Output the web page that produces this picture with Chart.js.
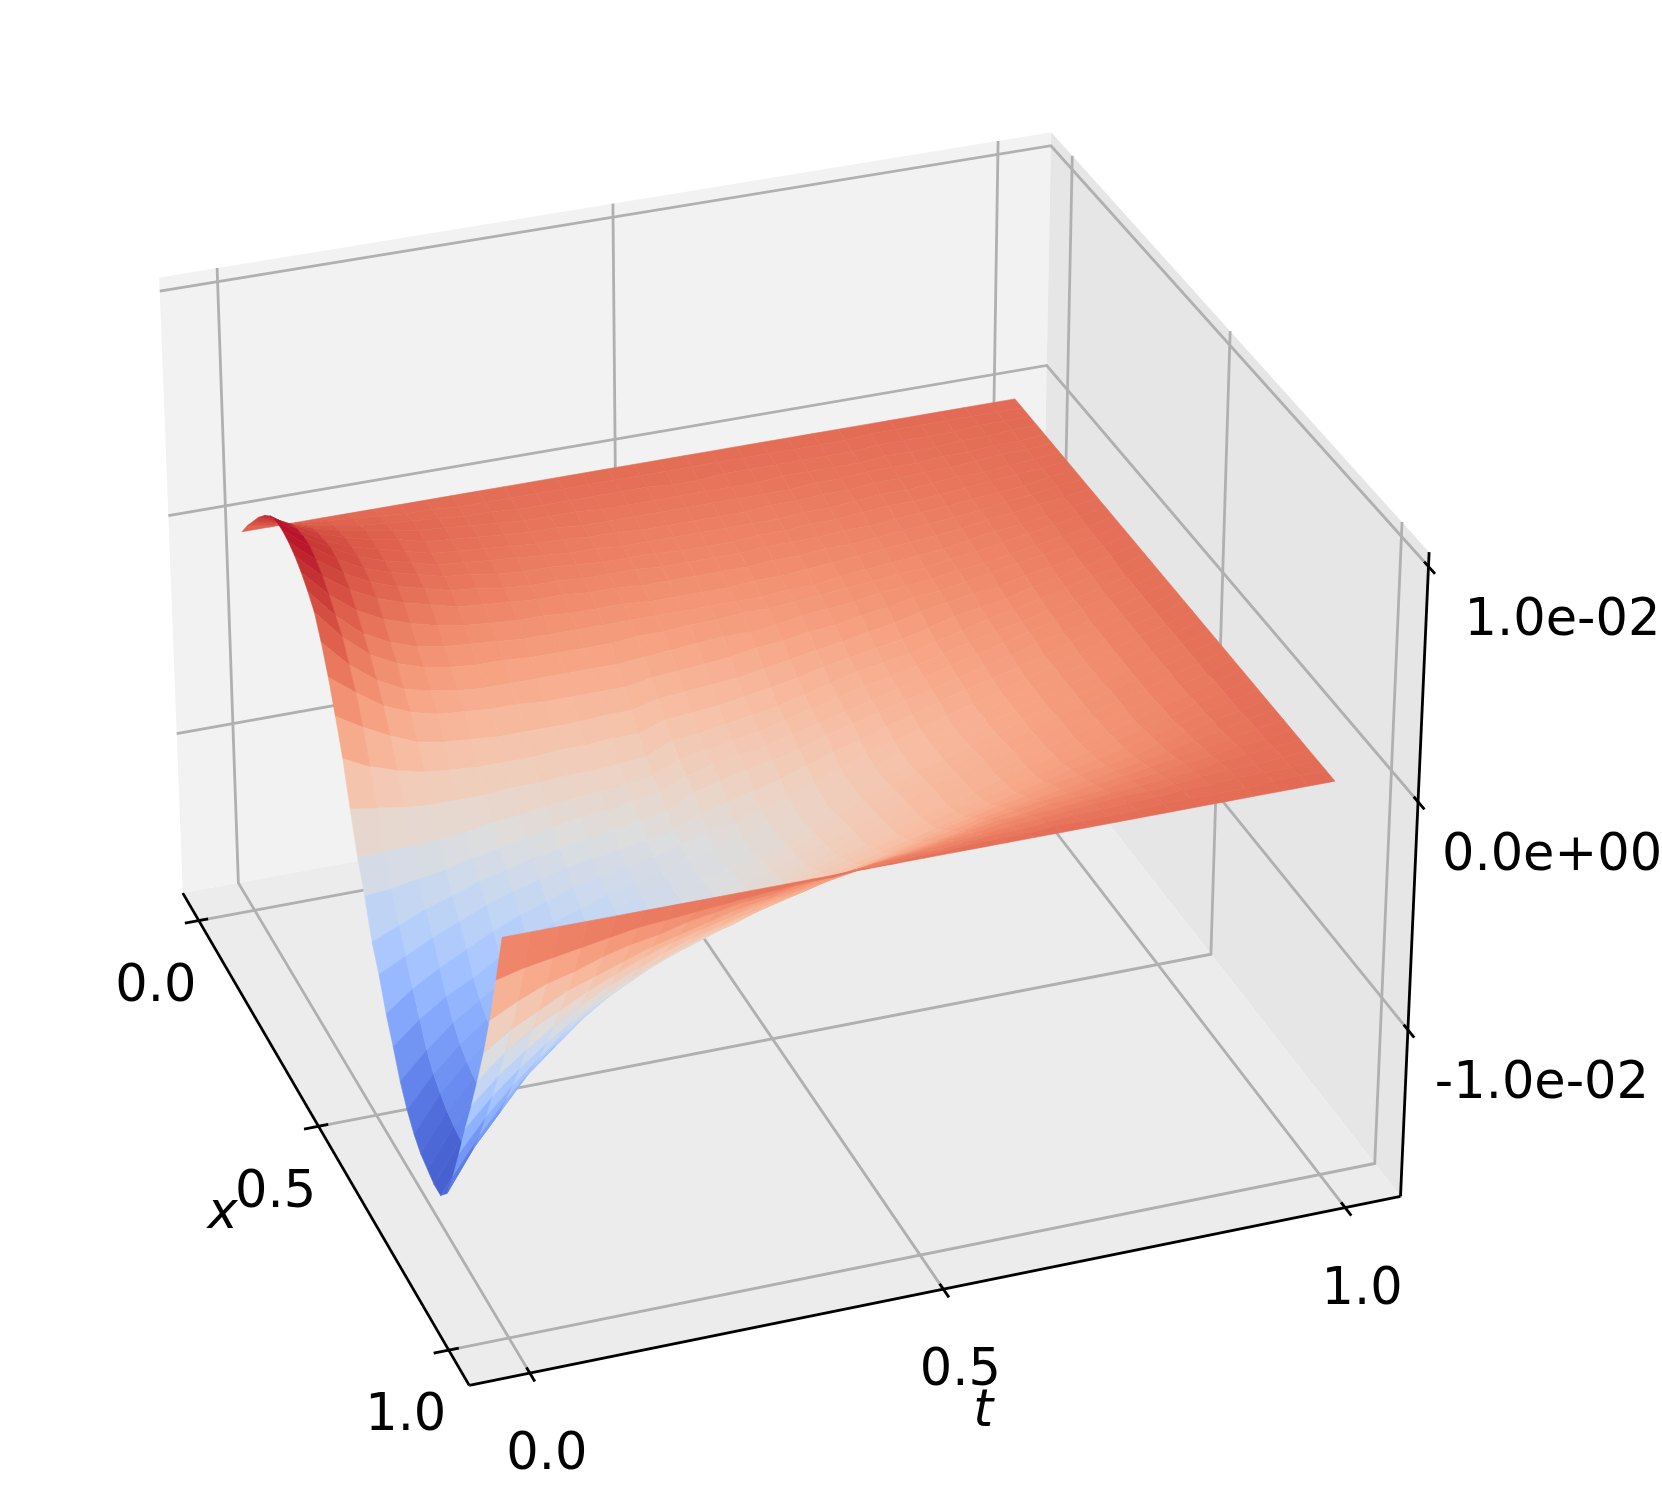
<!DOCTYPE html>
<html><head><meta charset="utf-8">
<style>html,body{margin:0;padding:0;background:#fff}canvas{display:block}</style>
<script src="https://cdn.jsdelivr.net/npm/chart.js@4/dist/chart.umd.js"></script>
</head><body><canvas id="c" width="1662" height="1506"></canvas>
<script>
// ---- data: u(x,t) in units of 1e-4, rows are x, columns are t
const xValues=[0,.025,.05,.075,.1,.125,.15,.175,.2,.225,.25,.275,.3,.325,.35,.375,.4,.425,.45,.475,.5,.525,.55,.575,.6,.625,.65,.675,.7,.725,.75,.775,.8,.825,.85,.875,.9,.925,.95,.975,1];
const tValues=[0,.0333,.0667,.1,.1333,.1667,.2,.2333,.2667,.3,.3333,.3667,.4,.4333,.4667,.5,.5333,.5667,.6,.6333,.6667,.7,.7333,.7667,.8,.8333,.8667,.9,.9333,.9667,1];
const uRows=[
[0,0,0,0,0,0,0,0,0,0,0,0,0,0,0,0,0,0,0,0,0,0,0,0,0,0,0,0,0,0,0],
[7,5,4,3,2,1,0,0,-1,-1,-1,-1,-1,-1,-1,-1,-1,-1,-1,-1,-1,-1,-1,-1,0,0,0,0,0,0,0],
[13,10,7,5,3,2,1,0,-1,-1,-2,-2,-2,-2,-2,-2,-3,-3,-2,-2,-2,-2,-2,-2,-1,-1,-1,-1,0,0,0],
[19,14,10,7,5,3,1,0,-1,-2,-3,-3,-3,-4,-4,-4,-4,-4,-4,-4,-3,-3,-3,-3,-2,-2,-2,-1,-1,0,0],
[24,18,12,8,5,3,0,-1,-2,-3,-4,-4,-5,-5,-5,-5,-5,-5,-5,-5,-5,-4,-4,-3,-3,-3,-2,-2,-1,-1,0],
[28,20,13,8,5,2,-1,-2,-3,-4,-5,-5,-6,-6,-7,-7,-7,-7,-7,-6,-6,-5,-5,-4,-4,-3,-3,-2,-1,-1,0],
[30,21,14,8,4,1,-2,-3,-4,-5,-6,-7,-7,-8,-8,-8,-8,-8,-8,-8,-7,-7,-6,-5,-5,-4,-3,-3,-2,-1,0],
[30,21,13,7,3,0,-3,-4,-6,-7,-7,-8,-9,-9,-9,-10,-10,-10,-9,-9,-8,-8,-7,-6,-6,-5,-4,-3,-2,-1,0],
[29,19,11,5,1,-2,-5,-6,-8,-9,-9,-10,-10,-10,-11,-11,-11,-11,-10,-10,-10,-9,-9,-8,-7,-6,-5,-4,-3,-1,0],
[27,16,8,2,-2,-5,-8,-9,-10,-11,-11,-12,-12,-13,-13,-13,-13,-13,-12,-12,-11,-11,-10,-9,-8,-7,-6,-4,-3,-1,0],
[24,12,3,-3,-7,-10,-12,-13,-14,-14,-15,-15,-15,-16,-16,-16,-16,-15,-15,-14,-13,-12,-11,-10,-9,-8,-6,-5,-3,-2,0],
[20,7,-3,-9,-13,-15,-16,-17,-18,-18,-18,-18,-18,-18,-18,-18,-18,-18,-17,-17,-15,-14,-13,-12,-11,-9,-7,-6,-4,-2,0],
[15,2,-8,-14,-18,-20,-21,-21,-22,-22,-22,-22,-21,-21,-20,-20,-19,-19,-18,-17,-16,-15,-14,-13,-11,-10,-8,-6,-4,-2,0],
[6,-6,-15,-21,-24,-26,-27,-27,-27,-27,-27,-27,-26,-25,-24,-23,-23,-22,-20,-19,-18,-16,-15,-14,-12,-11,-9,-7,-5,-3,0],
[-5,-14,-22,-27,-30,-31,-32,-32,-33,-33,-33,-33,-31,-30,-29,-28,-26,-25,-23,-22,-20,-18,-16,-15,-13,-11,-9,-7,-5,-3,0],
[-18,-25,-31,-36,-38,-39,-40,-40,-40,-40,-39,-39,-36,-35,-34,-33,-31,-29,-27,-25,-23,-21,-18,-16,-14,-13,-10,-8,-6,-3,0],
[-32,-38,-42,-45,-46,-47,-47,-47,-46,-46,-45,-45,-41,-40,-39,-37,-35,-33,-30,-28,-26,-24,-21,-18,-16,-14,-11,-9,-6,-3,0],
[-50,-52,-54,-55,-55,-55,-54,-54,-53,-53,-52,-51,-46,-45,-43,-41,-39,-36,-33,-30,-28,-26,-23,-20,-17,-15,-12,-9,-6,-4,0],
[-67,-67,-67,-66,-65,-63,-62,-60,-59,-58,-57,-55,-50,-48,-46,-44,-41,-38,-35,-32,-30,-27,-24,-21,-18,-16,-13,-10,-7,-4,0],
[-80,-79,-77,-75,-72,-70,-67,-65,-63,-62,-60,-58,-53,-50,-48,-46,-43,-40,-37,-34,-31,-28,-25,-22,-19,-16,-13,-10,-7,-4,0],
[-96,-91,-86,-82,-78,-75,-72,-70,-68,-66,-64,-62,-56,-53,-50,-48,-45,-41,-38,-35,-32,-29,-26,-23,-20,-17,-14,-11,-7,-4,0],
[-106,-100,-94,-89,-84,-80,-77,-74,-72,-70,-68,-66,-61,-58,-55,-52,-48,-44,-41,-37,-34,-30,-27,-24,-21,-18,-14,-11,-7,-4,0],
[-119,-110,-103,-97,-91,-86,-82,-78,-76,-73,-71,-68,-65,-62,-59,-55,-51,-47,-43,-39,-36,-32,-29,-25,-22,-18,-15,-11,-7,-4,0],
[-129,-119,-111,-105,-98,-92,-87,-83,-79,-76,-73,-70,-68,-64,-60,-56,-52,-48,-44,-40,-36,-33,-29,-25,-22,-18,-15,-11,-7,-4,0],
[-140,-128,-118,-110,-103,-97,-91,-86,-81,-77,-73,-70,-68,-65,-61,-57,-53,-48,-44,-40,-36,-33,-29,-25,-22,-18,-15,-11,-7,-4,0],
[-148,-134,-123,-114,-106,-99,-92,-87,-82,-78,-74,-70,-67,-64,-60,-56,-52,-47,-43,-39,-36,-32,-29,-25,-22,-18,-15,-11,-7,-4,0],
[-154,-138,-126,-116,-108,-100,-93,-87,-82,-77,-73,-69,-66,-62,-58,-54,-50,-46,-42,-38,-35,-31,-28,-25,-21,-18,-14,-11,-7,-4,0],
[-158,-141,-128,-118,-109,-101,-94,-88,-82,-77,-72,-68,-65,-61,-57,-53,-49,-45,-41,-37,-34,-30,-27,-24,-21,-18,-14,-11,-7,-4,0],
[-160,-143,-130,-119,-110,-102,-94,-88,-83,-78,-72,-68,-65,-60,-56,-52,-48,-44,-40,-36,-33,-30,-27,-24,-21,-17,-14,-11,-7,-4,0],
[-162,-144,-129,-117,-107,-98,-90,-84,-78,-73,-69,-65,-61,-57,-53,-50,-47,-43,-39,-36,-33,-29,-26,-23,-20,-17,-14,-10,-7,-3,0],
[-162,-145,-129,-115,-104,-95,-87,-80,-74,-69,-64,-60,-57,-53,-50,-47,-44,-41,-37,-34,-31,-28,-25,-22,-19,-16,-13,-10,-6,-3,0],
[-156,-138,-124,-110,-100,-90,-82,-76,-70,-65,-60,-56,-53,-50,-47,-44,-41,-38,-35,-32,-29,-26,-23,-20,-18,-15,-12,-9,-6,-3,0],
[-143,-127,-113,-101,-91,-82,-75,-69,-64,-60,-56,-52,-49,-46,-43,-40,-37,-34,-31,-28,-25,-23,-20,-18,-16,-14,-11,-8,-5,-3,0],
[-128,-114,-102,-92,-82,-74,-68,-62,-57,-53,-50,-46,-43,-40,-37,-34,-32,-29,-27,-24,-22,-20,-18,-16,-14,-12,-10,-7,-5,-2,0],
[-112,-100,-90,-81,-73,-66,-60,-55,-50,-46,-43,-40,-37,-34,-32,-29,-27,-25,-23,-20,-18,-16,-15,-13,-12,-10,-8,-6,-4,-2,0],
[-97,-86,-77,-69,-62,-56,-51,-46,-42,-39,-36,-33,-31,-28,-26,-24,-22,-20,-18,-16,-15,-13,-12,-11,-9,-8,-6,-5,-3,-2,0],
[-81,-71,-63,-57,-51,-46,-41,-37,-34,-31,-28,-26,-24,-22,-20,-18,-17,-15,-14,-12,-11,-10,-9,-8,-7,-6,-5,-3,-2,-1,0],
[-64,-56,-50,-44,-40,-36,-32,-29,-26,-23,-21,-19,-17,-16,-14,-13,-12,-11,-10,-9,-8,-7,-6,-5,-5,-4,-3,-2,-2,-1,0],
[-45,-39,-34,-31,-27,-24,-22,-19,-17,-15,-14,-12,-11,-10,-9,-8,-8,-7,-6,-6,-5,-4,-4,-3,-3,-2,-2,-1,-1,-1,0],
[-23,-20,-18,-16,-14,-12,-11,-10,-9,-8,-7,-6,-6,-5,-5,-4,-4,-3,-3,-3,-2,-2,-2,-2,-1,-1,-1,-1,0,0,0],
[0,0,0,0,0,0,0,0,0,0,0,0,0,0,0,0,0,0,0,0,0,0,0,0,0,0,0,0,0,0,0]];
const xTicks=[0,.5,1], tTicks=[0,.5,1], zTicks=[100,0,-100];
const xTickLabels=['0.0','0.5','1.0'], tTickLabels=['0.0','0.5','1.0'], zTickLabels=['1.0e-02','0.0e+00','-1.0e-02'];

// ---- view: axis limits and the visible box corners on the page
const xLim=[-.07,1.075], tLim=[-.072,1.07], zLim=[-175,106];
const corners=[[0,0,0,182.7,892.7],[1,0,0,469.6,1385.5],[1,1,0,1400.3,1196.7],
               [0,0,1,159,277.7],[0,1,1,1051.5,132.5],[1,1,1,1429,551.7]];
const vmin=-162,vmax=28;
const coolwarm=[[59,76,192],[68,90,204],[77,104,215],[87,117,225],[98,130,234],[108,142,241],[119,154,247],[130,165,251],[141,176,254],[152,185,255],[163,194,255],[174,201,253],[184,208,249],[194,213,244],[204,217,238],[213,219,230],[221,221,221],[229,216,209],[236,211,197],[241,204,185],[245,196,173],[247,187,160],[247,177,148],[247,166,135],[244,154,123],[241,141,111],[236,127,99],[229,112,88],[222,96,77],[213,80,66],[203,62,56],[192,40,47],[180,4,38]];

function solve(A,b){const n=b.length;A=A.map((r,i)=>[...r,b[i]]);
 for(let i=0;i<n;i++){let m=i;for(let k=i+1;k<n;k++)if(Math.abs(A[k][i])>Math.abs(A[m][i]))m=k;[A[i],A[m]]=[A[m],A[i]];
  for(let k=i+1;k<n;k++){const f=A[k][i]/A[i][i];for(let j=i;j<=n;j++)A[k][j]-=f*A[i][j];}}
 const x=Array(n).fill(0);for(let i=n-1;i>=0;i--){let s=A[i][n];for(let j=i+1;j<n;j++)s-=A[i][j]*x[j];x[i]=s/A[i][i];}return x;}
const P=(function(){const rows=[],rhs=[];for(const [X,Y,Z,px,py] of corners){const u=px/1000,v=py/1000;
  rows.push([X,Y,Z,1,0,0,0,0,-u*X,-u*Y,-u*Z]);rhs.push(u);rows.push([0,0,0,0,X,Y,Z,1,-v*X,-v*Y,-v*Z]);rhs.push(v);}
 const N=Array.from({length:11},()=>Array(11).fill(0)),b=Array(11).fill(0);
 rows.forEach((r,k)=>{for(let i=0;i<11;i++){b[i]+=r[i]*rhs[k];for(let j=0;j<11;j++)N[i][j]+=r[i]*r[j];}});return solve(N,b);})();
function project(x,t,z){const X=(x-xLim[0])/(xLim[1]-xLim[0]),Y=(t-tLim[0])/(tLim[1]-tLim[0]),Z=(z-zLim[0])/(zLim[1]-zLim[0]);
 const w=P[8]*X+P[9]*Y+P[10]*Z+1;
 return {x:1000*(P[0]*X+P[1]*Y+P[2]*Z+P[3])/w,y:1000*(P[4]*X+P[5]*Y+P[6]*Z+P[7])/w,w};}
function colorOf(u){let s=(u-vmin)/(vmax-vmin);s=Math.max(0,Math.min(1,s))*(coolwarm.length-1);const i=Math.min(coolwarm.length-2,Math.floor(s)),f=s-i,a=coolwarm[i],b=coolwarm[i+1];
 return `rgb(${a.map((v,k)=>Math.round(v+(b[k]-v)*f)).join(',')})`;}

const layers=[];
function poly(pts,color,bw){const d=pts.map(p=>project(p[0],p[1],p[2]));d.push(d[0]);
 layers.push({data:d.map(p=>({x:p.x,y:p.y})),fill:'shape',backgroundColor:color,borderColor:color,borderWidth:bw||0,pointRadius:0,tension:0});}
function line(pts,color,width){layers.push({data:pts.map(p=>{const q=project(p[0],p[1],p[2]);return {x:q.x,y:q.y};}),fill:false,borderColor:color,borderWidth:width,pointRadius:0,tension:0});}
const [x0,x1]=xLim,[t0,t1]=tLim,[z0,z1]=zLim;
// panes
poly([[x0,t0,z0],[x0,t1,z0],[x0,t1,z1],[x0,t0,z1]],'#f2f2f2');
poly([[x0,t1,z0],[x1,t1,z0],[x1,t1,z1],[x0,t1,z1]],'#e6e6e6');
poly([[x0,t0,z0],[x1,t0,z0],[x1,t1,z0],[x0,t1,z0]],'#ececec');
// grid
const G='#b0b0b0',GW=2.8,AW=2.8;
xTicks.forEach(v=>line([[v,t0,z0],[v,t1,z0],[v,t1,z1]],G,GW));
tTicks.forEach(v=>line([[x1,v,z0],[x0,v,z0],[x0,v,z1]],G,GW));
zTicks.forEach(v=>line([[x0,t0,v],[x0,t1,v],[x1,t1,v]],G,GW));
// axis lines and ticks
line([[x0,t0,z0],[x1,t0,z0]],'#000',AW);line([[x1,t0,z0],[x1,t1,z0]],'#000',AW);line([[x1,t1,z0],[x1,t1,z1]],'#000',AW);
xTicks.forEach(v=>line([[v,t0-.018,z0],[v,t0+.012,z0]],'#000',AW));
tTicks.forEach(v=>line([[x1+.018,v,z0],[x1-.012,v,z0]],'#000',AW));
zTicks.forEach(v=>line([[x1+.018,t1,v],[x1-.012,t1,v]],'#000',AW));
// surface, far facets first
const facets=[];
for(let i=0;i<xValues.length-1;i++)for(let j=0;j<tValues.length-1;j++){
 const c=[[i,j],[i+1,j],[i+1,j+1],[i,j+1]].map(([a,b])=>[xValues[a],tValues[b],uRows[a][b]]);
 const w=c.reduce((s,p)=>s+project(p[0],p[1],p[2]).w,0)/4,m=c.reduce((s,p)=>s+p[2],0)/4;
 facets.push({c,w,m});}
facets.sort((a,b)=>b.w-a.w).forEach(f=>poly(f.c,colorOf(f.m),.6));

const textPlugin={id:'labels',afterDraw(ch){const c=ch.ctx,sx=ch.scales.x,sy=ch.scales.y;c.save();c.fillStyle='#000';c.textAlign='center';c.textBaseline='middle';c.font='51px "DejaVu Sans"';
 const put=(s,p,dx,dy)=>c.fillText(s,sx.getPixelForValue(p.x)+dx,sy.getPixelForValue(p.y)+dy);
 xTicks.forEach((v,i)=>put(xTickLabels[i],project(v,t0,z0),-43,67));
 tTicks.forEach((v,i)=>put(tTickLabels[i],project(x1,v,z0),17,83));
 zTicks.forEach((v,i)=>put(zTickLabels[i],project(x1,t1,v),134,55));
 c.font='italic 51px "DejaVu Sans"';
 put('x',project(.5,t0,z0),-96,88);put('t',project(x1,.5,z0),40,124);
 c.restore();}};

new Chart(document.getElementById('c'),{type:'line',data:{datasets:layers.slice().reverse()},plugins:[textPlugin],
 options:{responsive:false,animation:false,events:[],layout:{padding:0},
  plugins:{legend:{display:false},tooltip:{enabled:false},title:{display:false}},
  scales:{x:{type:'linear',min:0,max:1662,display:false},y:{type:'linear',min:0,max:1506,reverse:true,display:false}}}});
</script></body></html>
